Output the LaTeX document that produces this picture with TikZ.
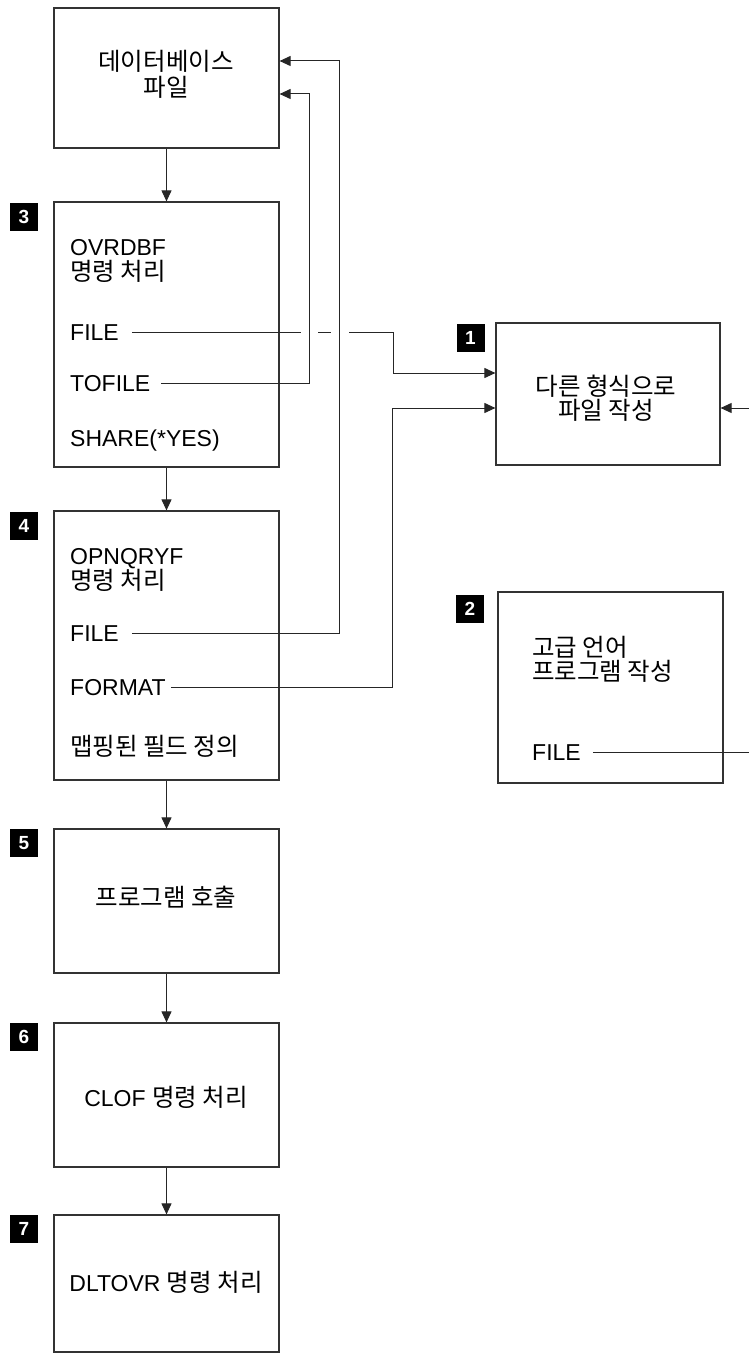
\documentclass[tikz,border=0pt]{standalone}
\usepackage{fontspec}
\setmainfont{Liberation Sans}
\newfontfamily\krfam{Noto Sans CJK KR}
\newcommand\kr{\krfam\fontsize{24.5}{28}\selectfont}
\usetikzlibrary{arrows.meta,calc}
\begin{document}
\begin{tikzpicture}[x=1pt,y=-1pt,
  box/.style={draw=black!80,line width=1.2pt,rectangle,inner sep=0pt},
  txt/.style={inner sep=0pt,text height=17pt,text depth=0pt,font=\fontsize{23}{26}\selectfont},
  badge/.style={fill=black,text=white,inner sep=0pt,minimum width=28pt,minimum height=28pt,font=\bfseries\fontsize{19}{19}\selectfont},
  conn/.style={line width=1pt,draw=black!85},
  arr/.style={conn,-{Triangle[length=11pt,width=10pt]}}]
\useasboundingbox (0,0) rectangle (749,1359);

% boxes
\node[box,minimum width=225pt,minimum height=140pt] (dbA) at (166.5,78) {};
\node[box,minimum width=225pt,minimum height=265pt] (b3) at (166.5,334.5) {};
\node[box,minimum width=225pt,minimum height=269pt] (b4) at (166.5,645.5) {};
\node[box,minimum width=225pt,minimum height=144pt] (b5) at (166.5,901) {};
\node[box,minimum width=225pt,minimum height=144pt] (b6) at (166.5,1095) {};
\node[box,minimum width=225pt,minimum height=137pt] (b7) at (166.5,1283.5) {};
\node[box,minimum width=224pt,minimum height=142pt] (b1) at (608,394) {};
\node[box,minimum width=225pt,minimum height=191pt] (b2) at (610.5,687.5) {};

% badges
\node[badge] (n1) at (470.5,337.5) {1};
\node[badge] (n2) at (470,609) {2};
\node[badge] (n3) at (24,216.5) {3};
\node[badge] (n4) at (24,525.5) {4};
\node[badge] (n5) at (24,843) {5};
\node[badge] (n6) at (24,1037) {6};
\node[badge] (n7) at (24,1229) {7};

% texts
\node[txt] (ta1) at (166,62) {\kr 데이터베이스};
\node[txt] (ta2) at (166,88) {\kr 파일};

\node[txt,anchor=west] (t3a) at (70,247) {OVRDBF};
\node[txt,anchor=west] (t3b) at (70,272) {\kr 명령 처리};
\node[txt,anchor=west] (t3file) at (70,332) {FILE};
\node[txt,anchor=west] (t3tofile) at (70,383) {TOFILE};
\node[txt,anchor=west] (t3share) at (70,438) {SHARE(*YES)};

\node[txt,anchor=west] (t4a) at (70,556) {OPNQRYF};
\node[txt,anchor=west] (t4b) at (70,581) {\kr 명령 처리};
\node[txt,anchor=west] (t4file) at (70,633) {FILE};
\node[txt,anchor=west] (t4format) at (70,687) {FORMAT};
\node[txt,anchor=west] (t4map) at (70,747) {\kr 맵핑된 필드 정의};

\node[txt] (t5) at (166,898) {\kr 프로그램 호출};
\node[txt] (t6) at (166,1098) {CLOF {\kr 명령 처리}};
\node[txt] (t7) at (166,1283) {DLTOVR {\kr 명령 처리}};

\node[txt] (t1a) at (606,387) {\kr 다른 형식으로};
\node[txt] (t1b) at (606,411) {\kr 파일 작성};

\node[txt,anchor=west] (t2a) at (532,648) {\kr 고급 언어};
\node[txt,anchor=west] (t2b) at (532,672) {\kr 프로그램 작성};
\node[txt,anchor=west] (t2file) at (532,752) {FILE};

% vertical flow arrows
\draw[arr] (dbA) -- (b3);
\draw[arr] (b3) -- (b4);
\draw[arr] (b4) -- (b5);
\draw[arr] (b5) -- (b6);
\draw[arr] (b6) -- (b7);

% bend coordinates
\coordinate (vTo) at (309,0);
\coordinate (vF4) at (339,0);
\coordinate (vF3) at (393,373);
\coordinate (vFm) at (392,408);
\coordinate (vF2) at (770,408);

% FILE (box 3) -> box 1, with gaps at crossings
\draw[conn] ([xshift=13pt]t3file.east) -- (t3file.east -| 301,0);
\draw[conn] (t3file.east -| 318,0) -- (t3file.east -| 331,0);
\draw[arr] (t3file.east -| 349,0) -- (t3file.east -| vF3) -- (vF3) -- (vF3 -| b1.west);

% TOFILE -> database file
\draw[arr] ([xshift=11pt]t3tofile.east) -- (t3tofile.east -| vTo) -- (vTo |- 0,94) -- (dbA.east |- 0,94);

% FILE (box 4) -> database file
\draw[arr] ([xshift=13pt]t4file.east) -- (t4file.east -| vF4) -- (vF4 |- 0,61) -- (dbA.east |- 0,61);

% FORMAT -> box 1
\draw[arr] ([xshift=5pt]t4format.east) -- (t4format.east -| vFm) -- (vFm) -- (vFm -| b1.west);

% FILE (box 2) -> box 1 (right side)
\draw[arr] ([xshift=12pt]t2file.east) -- (t2file.east -| vF2) -- (vF2) -- (vF2 -| b1.east);
\end{tikzpicture}
\end{document}
